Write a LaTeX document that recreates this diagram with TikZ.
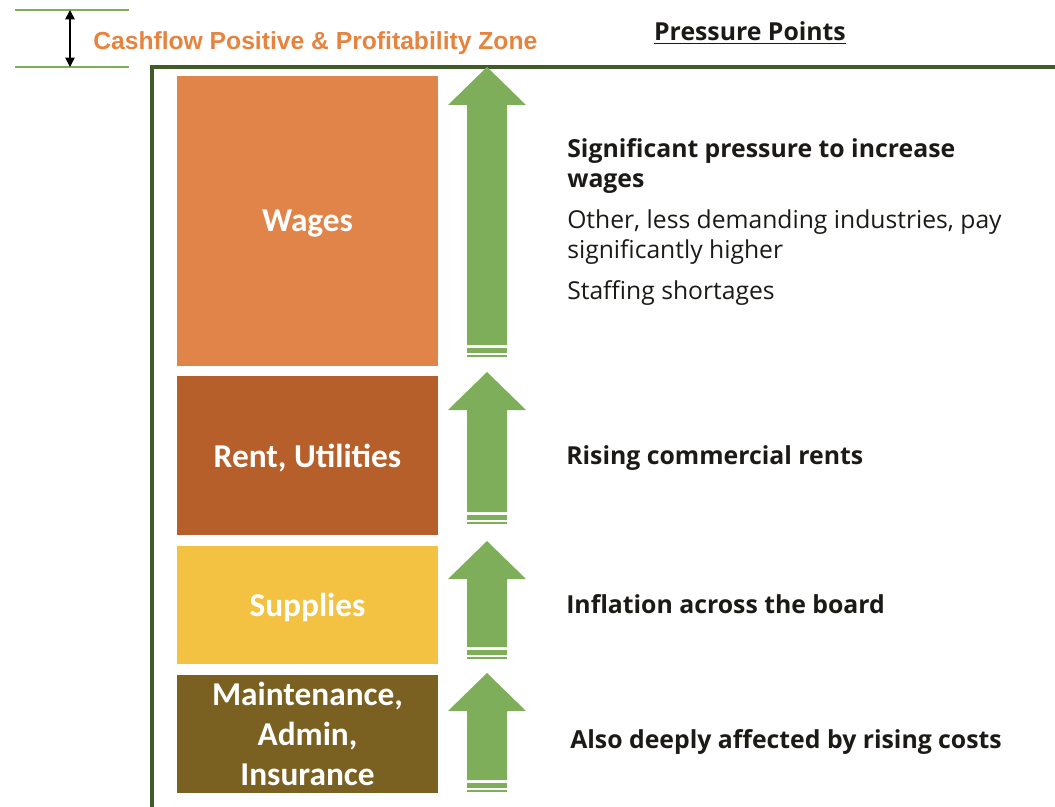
\documentclass[tikz,border=0pt]{standalone}
\usepackage{fontspec}
\setmainfont{Open Sans}
\newfontfamily\boxfont{Carlito}
\newfontfamily\zonefont{Liberation Sans}
\usetikzlibrary{arrows.meta,positioning}
\definecolor{wagecol}{HTML}{E0844A}
\definecolor{rentcol}{HTML}{B75F2A}
\definecolor{supplycol}{HTML}{F4C242}
\definecolor{maintcol}{HTML}{7A6021}
\definecolor{arrowgreen}{HTML}{7EAE5A}
\definecolor{framegreen}{HTML}{3E5B28}
\definecolor{zoneorange}{HTML}{E5833F}
\definecolor{inktext}{HTML}{1C1A17}
%% up arrow with striped tail: #1 tip, #2 bottom
\newcommand{\pusharrow}[2]{%
  \fill[arrowgreen] (487,#1) -- (526,#1+38) -- (507,#1+38) -- (507,#2-12)
    -- (467,#2-12) -- (467,#1+38) -- (448,#1+38) -- cycle;
  \fill[arrowgreen] (467,#2-9) rectangle (507,#2-4);
  \fill[arrowgreen] (467,#2-2.5) rectangle (507,#2);
}

\begin{document}
\begin{tikzpicture}
[x=0.75pt,y=-0.75pt,
cost/.style={minimum width=261*0.75pt,inner sep=0pt,text=white,align=center,
  font=\boxfont\bfseries\fontsize{25}{30}\selectfont},
oneline/.style={cost,text depth=0pt},
point/.style={anchor=west,inner sep=0pt,text=inktext,align=left},
head/.style={point,font=\bfseries\fontsize{18.6}{22.5}\selectfont},
sub/.style={point,font=\fontsize{18.5}{22.5}\selectfont},
zoneline/.style={arrowgreen,line width=2pt},
frame/.style={framegreen,line width=2.3pt}]
\useasboundingbox (0,0) rectangle (1055,806);
%%
%%%%%%%%%%%%%%%%%%
% zone marker
%%%%%%%%%%%%%%%%%%
\coordinate (ztop) at (70,10);
\coordinate (zbot) at (70,67);
\draw[zoneline] (15,10) -- (129,10);
\draw[zoneline] (15,67) -- (129,67);
\draw[line width=1.1pt,{Triangle[length=7pt,width=7pt]}-{Triangle[length=7pt,width=7pt]}] (ztop) -- (zbot);
\node[anchor=west,inner sep=0pt,text=zoneorange,font=\zonefont\bfseries\fontsize{18.5}{20}\selectfont]
  (zone) at (93,43) {Cashflow Positive \& Profitability Zone};
\node[inner sep=0pt,text=inktext,font=\bfseries\fontsize{18.6}{22}\selectfont]
  (pp) at (750,33) {\underline{Pressure Points}};
%%
%% frame
\draw[frame] (1056,67) -- (152,67) -- (152,807);
%%
%%%%%%%%%%%%%%%%%%
% cost blocks
%%%%%%%%%%%%%%%%%%
\node[oneline,fill=wagecol,minimum height=290*0.75pt] (wages) at (307.5,221) {Wages};
\node[oneline,fill=rentcol,minimum height=159*0.75pt] (rent) at (307.5,455.5) {Rent, Utilities};
\node[oneline,fill=supplycol,minimum height=118*0.75pt] (supplies) at (307.5,605) {Supplies};
\node[cost,fill=maintcol,minimum height=118*0.75pt] (maint) at (307.5,733.5)
  {Maintenance,\\Admin,\\Insurance};
%%
%%%%%%%%%%%%%%%%%%
% arrows
%%%%%%%%%%%%%%%%%%
\pusharrow{67}{357}
\pusharrow{372}{524}
\pusharrow{541}{659}
\pusharrow{673}{792}
%%
%%%%%%%%%%%%%%%%%%
% pressure points
%%%%%%%%%%%%%%%%%%
\node[head] (p1) at (567,166) {Significant pressure to increase\\wages};
\node[sub] (p1a) at (567,237) {Other, less demanding industries, pay\\significantly higher};
\node[sub] (p1b) at (567,293) {Staffing shortages};
\node[head] (p2) at (566,458) {Rising commercial rents};
\node[head] (p3) at (566,604) {Inflation across the board};
\node[head] (p4) at (570,742) {Also deeply affected by rising costs};
%%
\end{tikzpicture}
\end{document}
